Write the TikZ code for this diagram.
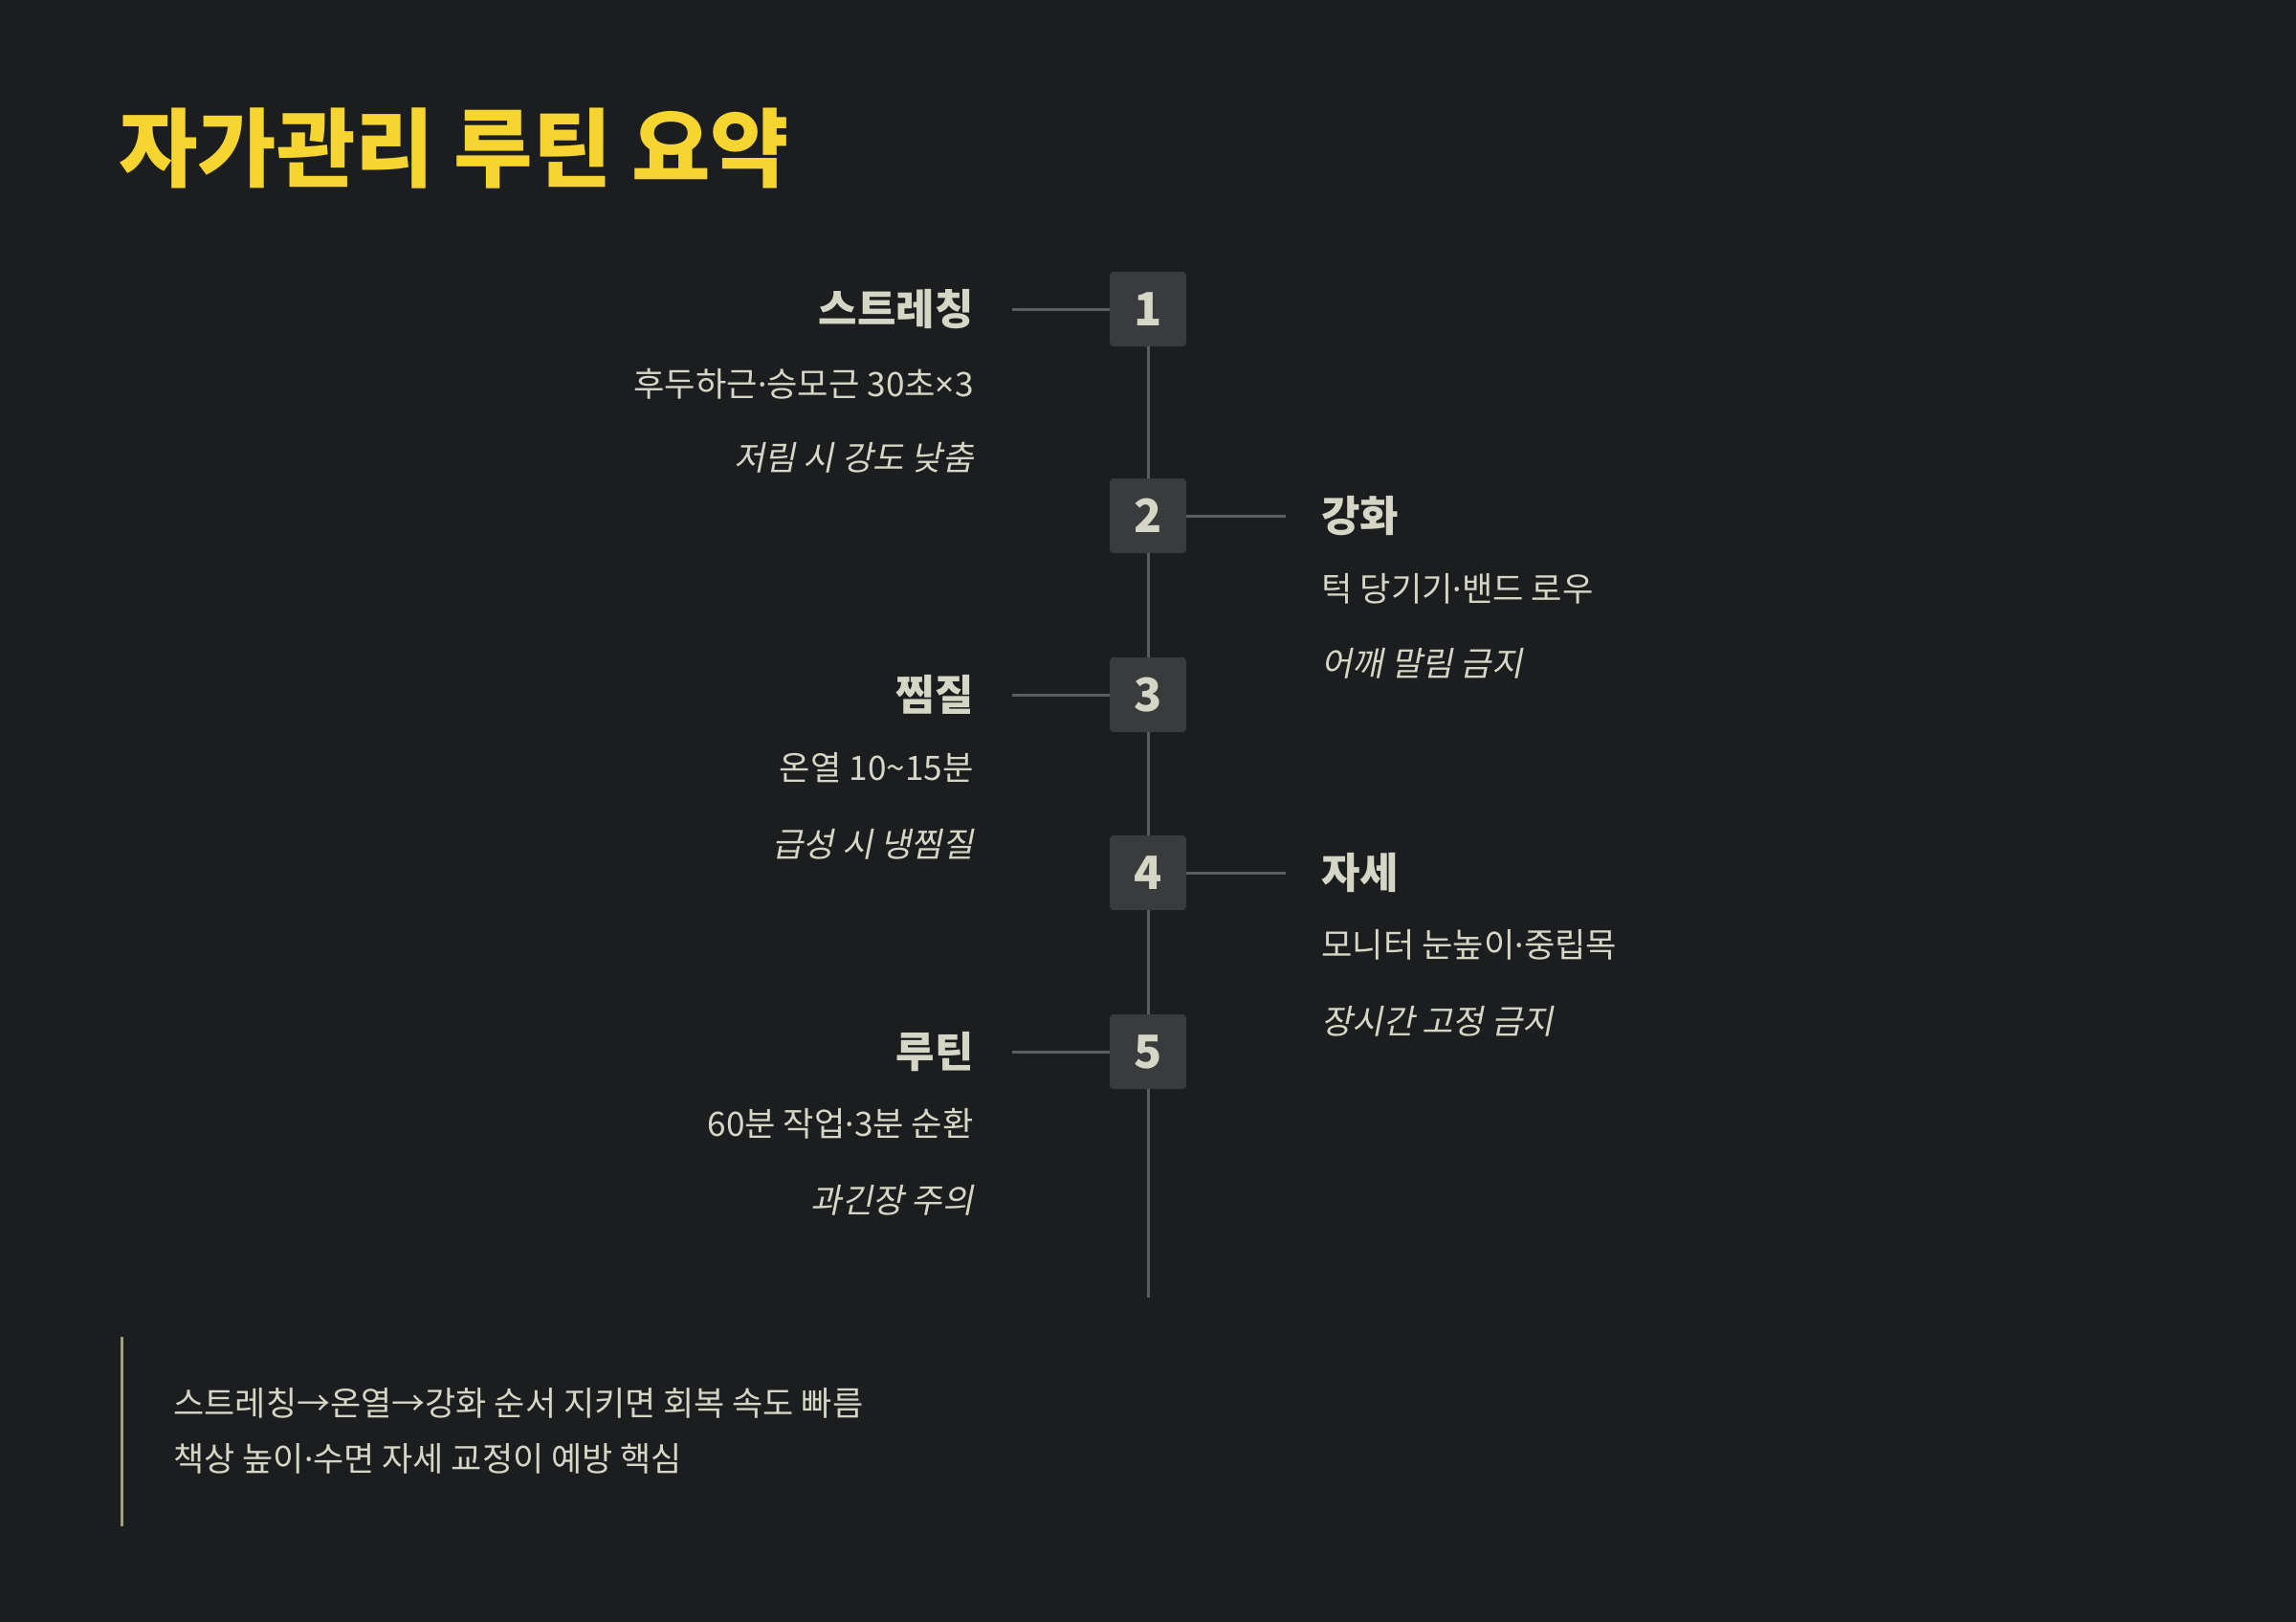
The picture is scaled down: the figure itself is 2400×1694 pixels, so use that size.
\documentclass[tikz,border=0pt]{standalone}
\usepackage{fontspec}
\setmainfont{Noto Sans CJK KR}
\newfontfamily\krit[FakeSlant=0.2]{Noto Sans CJK KR}
\newfontfamily\latn{Noto Sans}
\newcommand{\mdot}{{\latn ·}}
\newcommand{\mtimes}{{\latn ×}}
\definecolor{bgc}{HTML}{1C1D1F}
\definecolor{fgc}{HTML}{D6D6C6}
\definecolor{boxc}{HTML}{3A3B3D}
\definecolor{linec}{HTML}{5C5D5F}
\definecolor{titlec}{HTML}{F6D531}
\definecolor{barc}{HTML}{9FA27E}
\tikzset{
  titlenode/.style={inner sep=0pt, text=titlec, font=\bfseries\fontsize{44.8}{44.8}\selectfont},
  numbox/.style={fill=boxc, rounded corners=2pt, minimum width=40pt, minimum height=39pt, inner sep=0pt, text=fgc, font=\bfseries\fontsize{24}{24}\selectfont},
  spine/.style={draw=linec, line width=1.5pt},
  head/.style={inner sep=0pt, text=fgc, font=\bfseries\fontsize{22}{22}\selectfont},
  sub/.style={inner sep=0pt, text=fgc, font=\fontsize{17.6}{17.6}\selectfont},
  note/.style={inner sep=0pt, text=fgc, font=\krit\fontsize{17.6}{17.6}\selectfont},
  foot/.style={inner sep=0pt, text=fgc, font=\fontsize{17.5}{17.5}\selectfont},
  barline/.style={draw=barc, line width=1.5pt}
}
\begin{document}
\begin{tikzpicture}[x=0.5pt,y=-0.5pt]
\useasboundingbox (0,0) rectangle (2400,1694);
\fill[bgc] (-10,-10) rectangle (2410,1704);
\node[titlenode, anchor=west] (title) at (124,155) {자가관리 루틴 요약};
% boxes
\node[numbox] (n1) at (1200,323) {1};
\node[numbox] (n2) at (1200,539) {2};
\node[numbox] (n3) at (1200,726) {3};
\node[numbox] (n4) at (1200,912) {4};
\node[numbox] (n5) at (1200,1099) {5};
\coordinate (spineend) at (1200,1356);
\draw[spine] (n1) -- (n2);
\draw[spine] (n2) -- (n3);
\draw[spine] (n3) -- (n4);
\draw[spine] (n4) -- (n5);
\draw[spine] (n5) -- (spineend);
% connectors
\coordinate (c1) at (1058,323);
\coordinate (c2) at (1344,539);
\coordinate (c3) at (1058,726);
\coordinate (c4) at (1344,912);
\coordinate (c5) at (1058,1099);
\draw[spine] (c1) -- (n1);
\draw[spine] (n2) -- (c2);
\draw[spine] (c3) -- (n3);
\draw[spine] (n4) -- (c4);
\draw[spine] (c5) -- (n5);
% item 1
\node[head, anchor=east] (h1) at (1018,323) {스트레칭};
\node[sub, anchor=east] (s1) at (1018,401) {후두하근\mdot 승모근 30초\mtimes 3};
\node[note, anchor=east] (t1) at (1018,478) {저림 시 강도 낮춤};
% item 2
\node[head, anchor=west] (h2) at (1381,539) {강화};
\node[sub, anchor=west] (s2) at (1381,615) {턱 당기기\mdot 밴드 로우};
\node[note, anchor=west] (t2) at (1381,693) {어깨 말림 금지};
% item 3
\node[head, anchor=east] (h3) at (1018,726) {찜질};
\node[sub, anchor=east] (s3) at (1018,802) {온열 10\char"007E 15분};
\node[note, anchor=east] (t3) at (1018,882) {급성 시 냉찜질};
% item 4
\node[head, anchor=west] (h4) at (1381,912) {자세};
\node[sub, anchor=west] (s4) at (1381,987) {모니터 눈높이\mdot 중립목};
\node[note, anchor=west] (t4) at (1381,1067) {장시간 고정 금지};
% item 5
\node[head, anchor=east] (h5) at (1018,1099) {루틴};
\node[sub, anchor=east] (s5) at (1018,1174) {60분 작업\mdot 3분 순환};
\node[note, anchor=east] (t5) at (1018,1254) {과긴장 주의};
% footer
\coordinate (bt) at (127,1397);
\coordinate (bb) at (127,1595);
\draw[barline] (bt) -- (bb);
\node[foot, anchor=west] (f1) at (181,1466) {스트레칭→온열→강화 순서 지키면 회복 속도 빠름};
\node[foot, anchor=west] (f2) at (181,1524) {책상 높이\mdot 수면 자세 교정이 예방 핵심};
\end{tikzpicture}
\end{document}
